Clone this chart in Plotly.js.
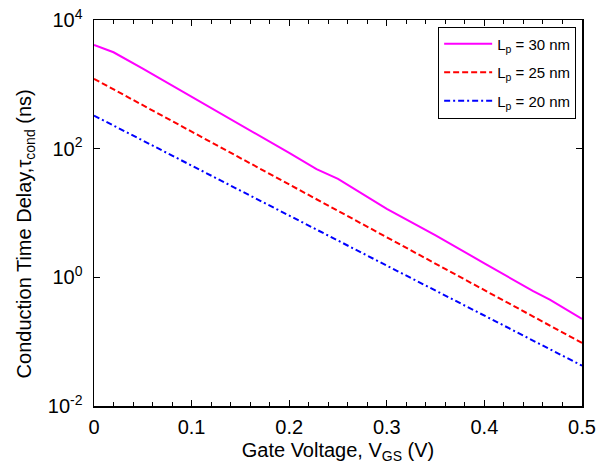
<!DOCTYPE html>
<html>
<head>
<meta charset="utf-8">
<script src="https://cdn.plot.ly/plotly-3.0.1.min.js"></script>
<style>html,body{margin:0;padding:0;background:#fff;}#chart{width:608px;height:470px;}</style>
</head>
<body>
<div id="chart"></div>
<script>
// Gate voltage (V)
var vgs30 = [0, 0.02, 0.05, 0.10, 0.15, 0.20, 0.228, 0.25, 0.30, 0.35, 0.40, 0.45, 0.467, 0.50];
var tau30 = [4100, 3150, 1750, 645, 238, 86, 48, 34, 11.6, 4.5, 1.65, 0.61, 0.45, 0.225];

var vgs25 = [0, 0.05, 0.10, 0.15, 0.20, 0.25, 0.30, 0.35, 0.40, 0.45, 0.50];
var tau25 = [1220, 473, 184, 71, 27.8, 10.8, 4.2, 1.63, 0.633, 0.246, 0.0955];

var vgs20 = [0, 0.05, 0.10, 0.15, 0.20, 0.25, 0.30, 0.35, 0.40, 0.45, 0.50];
var tau20 = [327, 134, 54.6, 22.3, 9.1, 3.73, 1.52, 0.62, 0.254, 0.104, 0.0424];

var seriesNames = ['L<sub>p</sub> = 30 nm', 'L<sub>p</sub> = 25 nm', 'L<sub>p</sub> = 20 nm'];
var xTickVals = [0, 0.1, 0.2, 0.3, 0.4, 0.5];
var xTickText = ['0', '0.1', '0.2', '0.3', '0.4', '0.5'];
var yTickVals = [0.01, 1, 100, 10000];
var yTickText = ['10<sup>-2</sup>', '10<sup>0</sup>', '10<sup>2</sup>', '10<sup>4</sup>'];
var xTitle = 'Gate Voltage, V<sub>GS</sub> (V)';
var yTitle = 'Conduction Time Delay,τ<sub>cond</sub> (ns)';

var FONT = 'Liberation Sans, Arial, Helvetica, sans-serif';

var traces = [
  {x: vgs30, y: tau30, name: seriesNames[0], legendgroup: 'a', mode: 'lines', line: {color: '#FF00FF', width: 2, dash: 'solid'}},
  {x: vgs25, y: tau25, name: seriesNames[1], legendgroup: 'b', mode: 'lines', line: {color: '#FF0000', width: 2, dash: '6px,3px'}},
  {x: vgs20, y: tau20, name: seriesNames[2], legendgroup: 'c', mode: 'lines', line: {color: '#0000FF', width: 2, dash: '6px,3px,2px,3px'}}
];

var axisCommon = {
  showgrid: false, zeroline: false, showline: true, linecolor: '#000', linewidth: 1.5,
  mirror: 'ticks', ticks: 'inside', tickcolor: '#000', tickwidth: 1,
  tickfont: {family: FONT, size: 20, color: '#000'}
};

var layout = {
  width: 608, height: 470,
  margin: {l: 94, r: 26, t: 20, b: 64},
  paper_bgcolor: '#fff', plot_bgcolor: '#fff',
  font: {family: FONT, color: '#000'},
  showlegend: true,
  legend: {
    x: 0.988, xanchor: 'right', y: 0.983, yanchor: 'top',
    bgcolor: '#fff', bordercolor: '#000', borderwidth: 1,
    font: {family: FONT, size: 15, color: '#000'},
    itemwidth: 48, tracegroupgap: 6
  },
  xaxis: Object.assign({}, axisCommon, {
    range: [0, 0.5], tickvals: xTickVals, ticktext: xTickText, ticklen: 6, ticklabelstandoff: 2,
    minor: {dtick: 0.02, tick0: 0, ticks: 'inside', ticklen: 4, tickcolor: '#000', tickwidth: 1, showgrid: false},
    title: {text: xTitle, font: {family: FONT, size: 20, color: '#000'}, standoff: 6}
  }),
  yaxis: Object.assign({}, axisCommon, {
    type: 'log', range: [-2, 4], tickvals: yTickVals, ticktext: yTickText, ticklen: 6, ticklabelstandoff: 6
  }),
  annotations: [{
    text: yTitle, textangle: -90, showarrow: false,
    xref: 'paper', yref: 'paper', x: -0.141, y: 0.445, xanchor: 'center', yanchor: 'middle',
    font: {family: FONT, size: 20, color: '#000'}
  }]
};

Plotly.newPlot('chart', traces, layout, {staticPlot: true, displayModeBar: false});
</script>
</body>
</html>
